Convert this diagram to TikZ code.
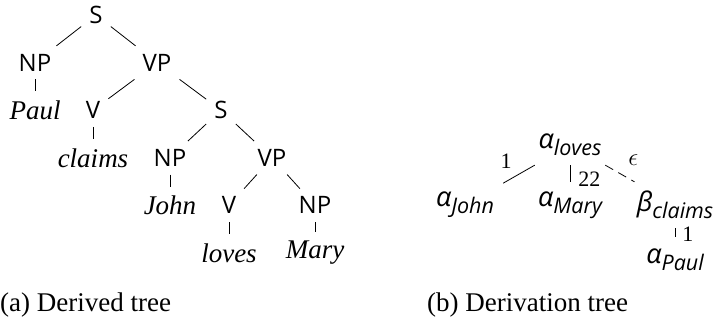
\documentclass[tikz,border=0pt]{standalone}
\usepackage{amsmath}
\usepackage{fontspec}
\setmainfont{Liberation Serif}
\setsansfont{Open Sans}
\usepackage{tikz}

% elementary tree name with its anchor word as subscript
\newcommand{\treename}[2]{{\fontsize{27}{27}\selectfont #1}\raisebox{-7pt}{\fontsize{21.5}{21.5}\selectfont #2}}

\begin{document}
\begin{tikzpicture}[
		x=1pt, y=1pt,
		cat/.style={font=\fontsize{24}{24}\selectfont\sffamily, inner sep=8pt},
		word/.style={font=\fontsize{27}{28}\selectfont\itshape, inner sep=9pt},
		tname/.style={font=\sffamily\itshape, inner sep=9pt},
		addr/.style={font=\fontsize{22}{22}\selectfont, inner sep=5pt},
		capt/.style={font=\fontsize{27}{28}\selectfont, inner sep=0pt, anchor=base west},
		level distance          = 47.6pt,
		edge from parent/.style = {draw, line width=0.8pt}
		]
		\useasboundingbox (0,0) rectangle (713,-320);
		% (a) derived tree
		\node[cat] (s1) at (96,-15) {S} [sibling distance=122pt]
		child{node[cat] (np1) {NP}
				child{node[word] (paul) {Paul}}}
		child{node[cat] (vp1) {VP}[sibling distance=128pt]
				child{node[cat] (v1) {V}
						child{node[word] (claims) {claims}}}
				child{node[cat] (s2) {S}[sibling distance=102pt]
						child{node[cat] (np2) {NP}
								child{node[word] (john) {John}}}
						child{node[cat] (vp2) {VP}[sibling distance=86pt]
								child{node[cat] (v2) {V}
										child{node[word] (loves) {loves}}}
								child{node[cat] (np3) {NP}
										child{node[word] (mary) {Mary}}}}}};
		% (b) derivation tree
		\node[tname] (aloves) at (570,-145) {\treename{α}{loves}} [sibling distance=105pt, level distance=60pt]
		child{node[tname] (ajohn) {\treename{α}{John}}
				edge from parent node[addr,above left,xshift=-2pt]{1}}
		child{node[tname] (amary) {\treename{α}{Mary}}
				edge from parent node[addr,right,pos=0.8,xshift=3pt]{22}}
		child{node[tname] (bclaims) {\treename{β}{claims}}[level distance=55pt]
				child{node[tname] (apaul) {\treename{α}{Paul}}
						edge from parent node[addr,right,xshift=2pt]{1}}
				edge from parent[dash pattern=on 9pt off 6pt] node[addr,above right,xshift=3pt,yshift=3pt]{\fontsize{24}{24}\selectfont$\epsilon$}};
		% captions
		\node[capt] (capa) at (0,-312) {(a) Derived tree};
		\node[capt] (capb) at (427,-312) {(b) Derivation tree};
	\end{tikzpicture}
\end{document}
